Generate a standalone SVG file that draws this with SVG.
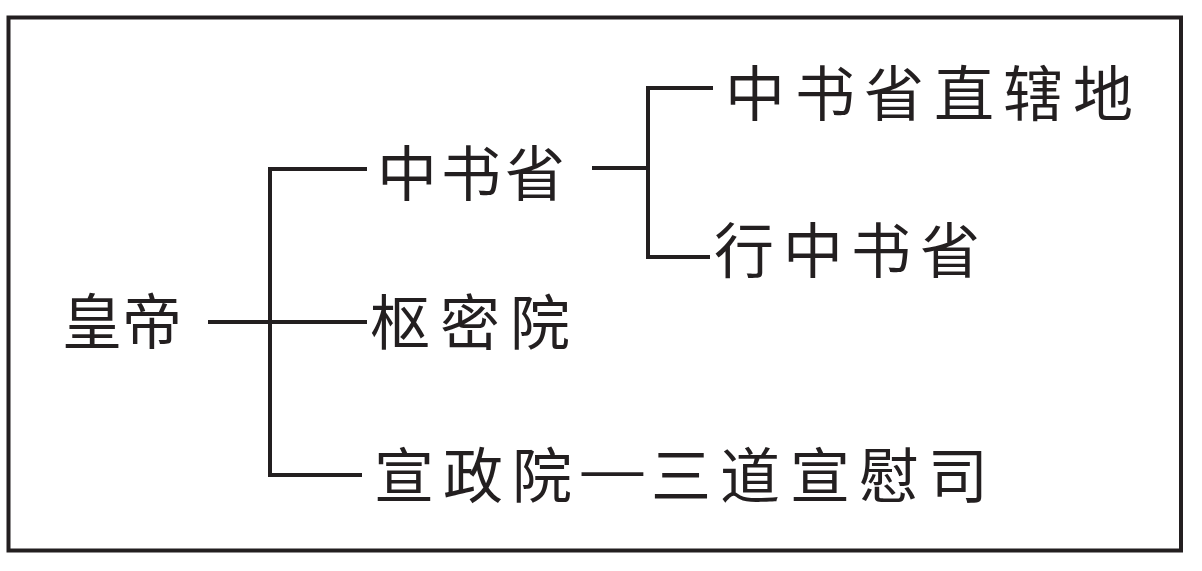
<svg xmlns="http://www.w3.org/2000/svg" width="1202" height="571" viewBox="0 0 1202 571">
<style>
.t{font-family:"Noto Sans CJK SC","Noto Sans CJK TC",sans-serif;font-size:60px;fill:#231f20;font-weight:400}
.c{fill:none;stroke:#231f20;stroke-width:4;stroke-linecap:butt;stroke-linejoin:miter}
</style>
<rect x="0" y="0" width="1202" height="571" fill="#ffffff"/>
<rect x="8.5" y="17.5" width="1172.5" height="533" fill="none" stroke="#231f20" stroke-width="4"/>
<g id="connectors">
<path class="c" d="M208 322 H367"/>
<path class="c" d="M367 169 H270 V475 H362"/>
<path class="c" d="M592 168 H648"/>
<path class="c" d="M713 88 H648 V257 H710"/>
</g>
<g id="n-huangdi"><text class="t" x="62 122" y="344">皇帝</text></g>
<g id="n-zhongshusheng"><text class="t" x="377 441 505" y="196">中书省</text></g>
<g id="n-shumiyuan"><text class="t" x="370 440 510" y="345">枢密院</text></g>
<g id="n-xuanzhengyuan"><text class="t" y="498"><tspan x="374 443 512">宣政院</tspan><tspan x="578" dy="-7" textLength="69" lengthAdjust="spacingAndGlyphs">—</tspan><tspan x="651 720 790 859 928" dy="7">三道宣慰司</tspan></text></g>
<g id="n-zhixiadi"><text class="t" x="725 795 864 934 1003 1073" y="116">中书省直辖地</text></g>
<g id="n-xingzhongshusheng"><text class="t" x="714 783 851 920" y="273">行中书省</text></g>
</svg>
